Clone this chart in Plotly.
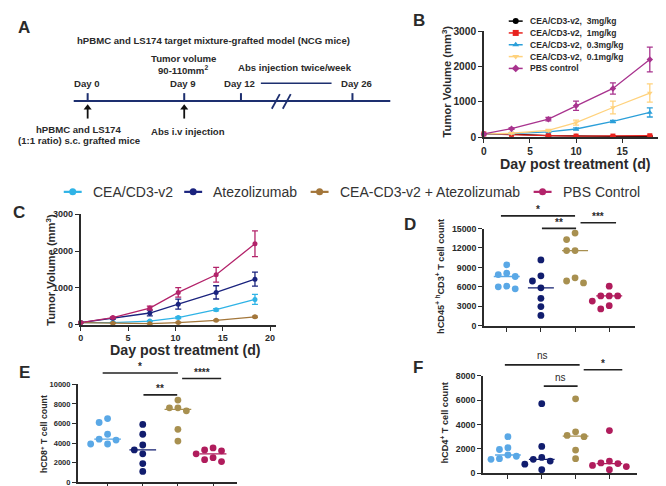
import numpy as np
import plotly.graph_objects as go

W, H = 666, 486
FONT = "Arial, Liberation Sans, Helvetica, sans-serif"
TXT = "#2a2a2a"
AX = "#2b2b2b"

# ---------------- data ----------------
# Panel B: dose response
days_b = [0, 3, 7, 10, 14, 18]
b_labels = ["CEA/CD3-v2,\u00a0\u00a03mg/kg", "CEA/CD3-v2,\u00a0\u00a01mg/kg",
            "CEA/CD3-v2,\u00a0\u00a00.3mg/kg", "CEA/CD3-v2,\u00a0\u00a00.1mg/kg", "PBS control"]
b_3mg = [90, 85, 40, 25, 20, 20]
b_3mg_err = [8, 8, 6, 5, 5, 5]
b_1mg = [90, 80, 45, 30, 30, 40]
b_1mg_err = [8, 8, 6, 5, 5, 6]
b_03 = [90, 100, 150, 230, 445, 700]
b_03_err = [10, 15, 20, 30, 30, 130]
b_01 = [90, 110, 190, 410, 840, 1250]
b_01_err = [10, 15, 30, 70, 180, 260]
b_pbs = [90, 240, 510, 890, 1380, 2200]
b_pbs_err = [10, 20, 50, 130, 160, 350]

# Panel C: combination
days_c = [0, 3.4, 7.3, 10.3, 14.3, 18.4]
groups = ["CEA/CD3-v2", "Atezolizumab", "CEA-CD3-v2 + Atezolizumab", "PBS Control"]
c_cea = [60, 60, 100, 195, 410, 690]
c_cea_err = [10, 10, 15, 25, 30, 135]
c_atezo = [60, 175, 320, 560, 880, 1240]
c_atezo_err = [10, 20, 80, 135, 180, 190]
c_combo = [60, 45, 30, 60, 120, 215]
c_combo_err = [10, 10, 10, 10, 15, 20]
c_pbs = [60, 195, 455, 880, 1360, 2200]
c_pbs_err = [10, 20, 50, 130, 200, 350]

# Panels D, E, F: cell counts per mouse
d_counts = [[9400, 8100, 7900, 7600, 6100, 6000, 5700],
            [10150, 7700, 6900, 5850, 4230, 2960, 1600],
            [14300, 13300, 11600, 11600, 7400, 6900, 6600],
            [6100, 4600, 4600, 4600, 3800, 3100, 2600]]
e_counts = [[6500, 6100, 4900, 4400, 4300, 3900, 3900],
            [5900, 4900, 3800, 3300, 2900, 1900, 1100],
            [8400, 7600, 7600, 7300, 5400, 4200],
            [3500, 3300, 3200, 2900, 2500, 2300, 2100]]
f_counts = [[3000, 2100, 1950, 1500, 1400, 1200, 1150],
            [5700, 2200, 1300, 1150, 1000, 750, 300],
            [6100, 3400, 3100, 3000, 1900, 1200],
            [3500, 1000, 850, 800, 650, 550, 300]]
d_ticks = [0, 3000, 6000, 9000, 12000, 15000]
e_ticks = [0, 2000, 4000, 6000, 8000, 10000]
f_ticks = [0, 2000, 4000, 6000, 8000]
tv_ticks = [0, 1000, 2000, 3000]
day_ticks = [0, 5, 10, 15, 20]

# significance brackets: (from, to, height, label)
d_sig = [(-0.17, 2.0, 16950, "*"), (1.03, 2.03, 15020, "**"), (2.16, 3.2, 15880, "***")]
e_sig = [(-0.14, 2.0, 11170, "*"), (2.12, 3.23, 10600, "****"), (1.02, 1.98, 8930, "**")]
f_sig = [(-0.09, 2.12, 8880, "ns"), (2.24, 3.38, 8480, "*"), (1.06, 2.06, 7140, "ns")]

timeline_days = ["Day 0", "Day 9", "Day 12", "Day 26"]

# colours
col_b = ["#000000", "#e8231f", "#2b9fd9", "#ffd27d", "#a8338e"]
col_c = ["#2fb3e6", "#1a237e", "#a3763a", "#b3236a"]
col_dot = ["#5aa8e6", "#111d6e", "#a89050", "#b01c5c"]

# ---------------- geometry (pixels) ----------------
geo = {
    "B": dict(xpx=(475, 663), ypx=(127, 18.7), xr=[0, 20.3], yr=[0, 3000]),
    "C": dict(xpx=(70, 266), ypx=(319, 206), xr=[0, 20.6], yr=[0, 3000]),
    "D": dict(xpx=(475, 627), ypx=(320, 220.5), xr=[-0.67, 3.76], yr=[0, 15000]),
    "E": dict(xpx=(67, 227), ypx=(480, 380), xr=[-0.85, 3.68], yr=[0, 10000]),
    "F": dict(xpx=(474, 629), ypx=(471, 371), xr=[-0.74, 3.82], yr=[0, 8000]),
}
axid = {"B": "", "C": "2", "D": "3", "E": "4", "F": "5"}


def px(x):
    return x / W


def py(y):
    return 1 - y / H


def d2p(p, xv, yv):
    g = geo[p]
    x0, x1 = g["xpx"]
    y0, y1 = g["ypx"]
    xp = x0 + (xv - g["xr"][0]) / (g["xr"][1] - g["xr"][0]) * (x1 - x0)
    yp = y0 + (yv - g["yr"][0]) / (g["yr"][1] - g["yr"][0]) * (y1 - y0)
    return xp, yp


fig = go.Figure()
shapes = []
annos = []


def text(x, y, s, size=9, bold=True, xanchor="center", yanchor="middle", color=TXT, angle=0):
    annos.append(dict(x=px(x), y=py(y), xref="paper", yref="paper", text=(f"<b>{s}</b>" if bold else s),
                      showarrow=False, xanchor=xanchor, yanchor=yanchor, textangle=angle,
                      font=dict(family=FONT, size=size, color=color)))


def line(x0, y0, x1, y1, color=AX, width=1.5):
    shapes.append(dict(type="line", xref="paper", yref="paper", x0=px(x0), y0=py(y0), x1=px(x1), y1=py(y1),
                       line=dict(color=color, width=width)))


# ---------------- Panel A (schematic) ----------------
NAVY = "#1d2f6f"
AF = 9.6
text(13, 15, "A", size=17)
text(203, 28, "hPBMC and LS174 target mixture-grafted model (NCG mice)", size=AF)
text(173, 47, "Tumor volume", size=AF)
text(173, 58, "90-110mm<sup>2</sup>", size=AF)
text(285, 56, "Abs injection twice/week", size=AF)
tl_x = [77, 174, 231, 343]
tl_lab = [76, 173, 230, 347]
for lab, tx, lx in zip(timeline_days, tl_x, tl_lab):
    text(lx, 72, lab, size=AF)
    line(tx, 82, tx, 90, NAVY, 2)
line(251, 72, 322, 72, NAVY, 1.5)
line(63, 90, 381, 90, NAVY, 2)
line(262, 98, 270, 83, NAVY, 1.8)
line(273, 98, 281, 83, NAVY, 1.8)
arrow_x = [tl_x[0], tl_x[1]]
for ax_x in arrow_x:
    line(ax_x, 108, ax_x, 98, "#111", 1.8)
fig.add_trace(go.Scatter(x=arrow_x, y=[97, 97], mode="markers", xaxis="x6", yaxis="y6",
                         marker=dict(symbol="triangle-up", size=7, color="#111"),
                         showlegend=False, hoverinfo="skip"))
text(68, 119, "hPBMC and LS174", size=AF)
text(68, 130, "(1:1 ratio) s.c. grafted mice", size=AF)
text(178, 121, "Abs i.v injection", size=AF)

# panel letters
text(410, 8, "B", size=17)
text(8, 204, "C", size=17)
text(401, 216, "D", size=17)
text(14, 368, "E", size=17)
text(409, 363, "F", size=17)

# ---------------- axes ----------------
lay = {}


def add_axes(p, xticks, yticks, tfont, cat=False):
    g = geo[p]
    xa = dict(domain=[px(g["xpx"][0]), px(g["xpx"][1])], range=g["xr"], showline=True, linewidth=1.5,
              linecolor=AX, ticks="outside", ticklen=4, tickwidth=1.3, tickcolor=AX, showgrid=False,
              zeroline=False, anchor="y" + axid[p], fixedrange=True,
              tickfont=dict(family=FONT, size=tfont, color=TXT, weight="bold"))
    if cat:
        xa.update(tickvals=list(range(4)), showticklabels=False)
    else:
        xa.update(tickvals=xticks)
    ya = dict(domain=[py(g["ypx"][0]), py(g["ypx"][1])], range=g["yr"], showline=True, linewidth=1.5,
              linecolor=AX, ticks="outside", ticklen=4, tickwidth=1.3, tickcolor=AX, showgrid=False,
              zeroline=False, anchor="x" + axid[p], tickvals=yticks, tickformat="d", fixedrange=True,
              tickfont=dict(family=FONT, size=tfont, color=TXT, weight="bold"))
    lay["xaxis" + axid[p]] = xa
    lay["yaxis" + axid[p]] = ya


add_axes("B", day_ticks, tv_ticks, 10.2)
add_axes("C", day_ticks, tv_ticks, 9)
add_axes("D", None, d_ticks, 8.8, cat=True)
add_axes("E", None, e_ticks, 7.5, cat=True)
add_axes("F", None, f_ticks, 8.8, cat=True)
# hidden pixel-space axis for the keys and the schematic arrow heads
lay["xaxis6"] = dict(domain=[0, 1], range=[0, W], visible=False, fixedrange=True, anchor="y6")
lay["yaxis6"] = dict(domain=[0, 1], range=[H, 0], visible=False, fixedrange=True, anchor="x6")

# axis titles
text(438, 70, "Tumor Volume (mm<sup>3</sup>)", size=11.2, angle=-90)
text(567, 154, "Day post treatment (d)", size=14.2)
text(40, 263, "Tumor Volume (mm<sup>3</sup>)", size=11.2, angle=-90)
text(175, 345, "Day post treatment (d)", size=14.2)
text(431, 270, "hCD45<sup>+</sup> <sup>h</sup>CD3<sup>+</sup> T cell count", size=9.2, angle=-90)
text(33, 431, "hCD8<sup>+</sup> T cell count", size=8.8, angle=-90)
text(436, 420, "hCD4<sup>+</sup> T cell count", size=9.2, angle=-90)

# ---------------- Panel B traces ----------------
b_series = [b_3mg, b_1mg, b_03, b_01, b_pbs]
b_errs = [b_3mg_err, b_1mg_err, b_03_err, b_01_err, b_pbs_err]
b_sym = ["circle", "square", "triangle-up", "triangle-down", "diamond"]
for vals, err, c, s in zip(b_series, b_errs, col_b, b_sym):
    fig.add_trace(go.Scatter(x=days_b, y=vals, mode="lines+markers", xaxis="x", yaxis="y",
                             line=dict(color=c, width=1.3), marker=dict(symbol=s, size=5, color=c),
                             error_y=dict(type="data", array=err, color=c, thickness=1.3, width=3),
                             showlegend=False, cliponaxis=False))
# key for panel B
for i, (lab, c, s) in enumerate(zip(b_labels, col_b, b_sym)):
    ry = 8.3 + i * 12.1
    fig.add_trace(go.Scatter(x=[500, 514], y=[ry, ry], mode="lines", xaxis="x6", yaxis="y6",
                             line=dict(color=c, width=1.5), showlegend=False, hoverinfo="skip"))
    fig.add_trace(go.Scatter(x=[507], y=[ry], mode="markers", xaxis="x6", yaxis="y6",
                             marker=dict(symbol=s, size=6, color=c), showlegend=False, hoverinfo="skip"))
    text(519, ry, lab, size=8.5, xanchor="left")

# ---------------- Panel C traces ----------------
c_series = [c_cea, c_atezo, c_combo, c_pbs]
c_errs = [c_cea_err, c_atezo_err, c_combo_err, c_pbs_err]
for name, vals, err, c in zip(groups, c_series, c_errs, col_c):
    fig.add_trace(go.Scatter(x=days_c, y=vals, mode="lines+markers", xaxis="x2", yaxis="y2", name=name,
                             line=dict(color=c, width=1.3), marker=dict(symbol="circle", size=5, color=c),
                             error_y=dict(type="data", array=err, color=c, thickness=1.3, width=3),
                             showlegend=False, cliponaxis=False))

# shared key for panels C-F
key_y = 183
key_line_start = [53, 174, 301, 525]
for name, c, lx in zip(groups, col_c, key_line_start):
    fig.add_trace(go.Scatter(x=[lx, lx + 18], y=[key_y, key_y], mode="lines", xaxis="x6", yaxis="y6",
                             line=dict(color=c, width=2.2), showlegend=False, hoverinfo="skip"))
    fig.add_trace(go.Scatter(x=[lx + 9], y=[key_y], mode="markers", xaxis="x6", yaxis="y6",
                             marker=dict(symbol="circle", size=7, color=c), showlegend=False, hoverinfo="skip"))
    text(lx + 27, key_y, name, size=14, bold=False, xanchor="left", color="#333")


# ---------------- dot plots ----------------
def swarm(p, gi, vals, dot=7.0, step=8.5):
    g = geo[p]
    xpp = (g["xpx"][1] - g["xpx"][0]) / (g["xr"][1] - g["xr"][0])
    ypp = (g["ypx"][0] - g["ypx"][1]) / (g["yr"][1] - g["yr"][0])
    order = np.argsort(-np.asarray(vals, dtype=float), kind="stable")
    placed = []
    xs = np.zeros(len(vals))
    cands = [0, -1, 1, -2, 2, -3, 3]
    for k in order:
        yk = vals[k] * ypp
        for cnd in cands:
            xo = cnd * step
            if all(np.hypot(xo - a, yk - b) >= dot for a, b in placed):
                break
        placed.append((xo, yk))
        xs[k] = gi + xo / xpp
    return xs


def dot_panel(p, data, sig):
    a = axid[p]
    for gi, vals in enumerate(data):
        xs = swarm(p, gi, vals)
        fig.add_trace(go.Scatter(x=xs, y=vals, mode="markers", xaxis="x" + a, yaxis="y" + a,
                                 marker=dict(size=6.8, color=col_dot[gi]), showlegend=False, cliponaxis=False))
        med = float(np.median(vals))
        fig.add_trace(go.Scatter(x=[gi - 0.38, gi + 0.38], y=[med, med], mode="lines", xaxis="x" + a,
                                 yaxis="y" + a, line=dict(color=col_dot[gi], width=1.3), showlegend=False,
                                 hoverinfo="skip"))
    for x0, x1, h, lab in sig:
        X0, Y = d2p(p, x0, h)
        X1, _ = d2p(p, x1, h)
        line(X0, Y, X1, Y, "#222", 1.6)
        if lab == "ns":
            text((X0 + X1) / 2, Y - 1.5, lab, size=10, bold=False, yanchor="bottom")
        else:
            text((X0 + X1) / 2, Y + 1.5, lab, size=10, bold=True, yanchor="bottom")


dot_panel("D", d_counts, d_sig)
dot_panel("E", e_counts, e_sig)
dot_panel("F", f_counts, f_sig)

fig.update_layout(
    width=W, height=H, autosize=False, margin=dict(l=0, r=0, t=0, b=0),
    paper_bgcolor="white", plot_bgcolor="rgba(0,0,0,0)",
    font=dict(family=FONT, color=TXT),
    shapes=shapes, annotations=annos, showlegend=False,
    **lay,
)

fig.write_html("out.html")
